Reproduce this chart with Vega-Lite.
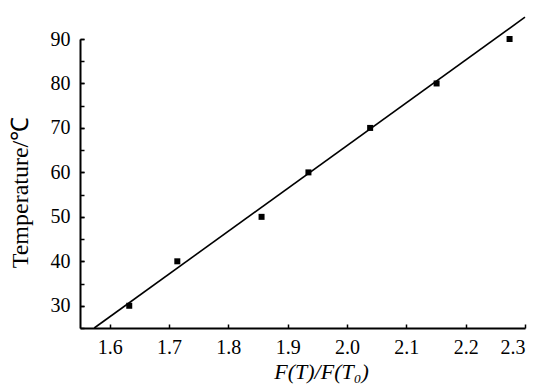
{
  "$schema": "https://vega.github.io/schema/vega-lite/v6.json",
  "autosize": "none",
  "width": 445,
  "height": 289,
  "padding": {"left": 80, "top": 39, "right": 21, "bottom": 58},
  "background": "white",
  "config": {
    "view": {"stroke": null}
  },
  "datasets": {
    "points": [
      {"ratio": 1.633, "temp": 30},
      {"ratio": 1.714, "temp": 40},
      {"ratio": 1.856, "temp": 50},
      {"ratio": 1.935, "temp": 60},
      {"ratio": 2.039, "temp": 70},
      {"ratio": 2.151, "temp": 80},
      {"ratio": 2.274, "temp": 90}
    ],
    "fit": [
      {"ratio": 1.574, "temp": 25},
      {"ratio": 2.3, "temp": 94.9}
    ]
  },
  "resolve": {"scale": {"y": "shared"}, "axis": {"y": "independent"}},
  "layer": [
    {
      "data": {"name": "fit"},
      "mark": {"type": "line", "color": "black", "strokeWidth": 1.6},
      "encoding": {
        "x": {"field": "ratio", "type": "quantitative",
          "scale": {"domain": [1.55, 2.3], "nice": false, "zero": false},
          "axis": {"values": [1.6, 1.7, 1.8, 1.9, 2.0, 2.1, 2.2, 2.3], "format": ".1f",
            "labelFont": "Liberation Serif", "labelFontSize": 20, "labelColor": "black",
            "titleFont": "Liberation Serif", "titleFontSize": 22, "titleFontWeight": "normal", "titleColor": "black",
            "domainColor": "black", "domainWidth": 2, "tickColor": "black", "tickWidth": 1.5, "grid": false,
            "tickSize": -4, "labelPadding": 13, "title": "F(T)/F(T₀)", "titleFontStyle": "italic",
            "titleX": 241, "titlePadding": 4}},
        "y": {"field": "temp", "type": "quantitative",
          "scale": {"domain": [25, 90], "nice": false, "zero": false},
          "axis": {"orient": "left", "values": [30, 40, 50, 60, 70, 80, 90],
            "labelOverlap": false,
            "labelFont": "Liberation Serif", "labelFontSize": 20, "labelColor": "black",
            "titleFont": "Liberation Serif", "titleFontSize": 24, "titleFontWeight": "normal", "titleColor": "black",
            "domainColor": "black", "domainWidth": 2, "tickColor": "black", "tickWidth": 1.5, "grid": false,
            "tickSize": -4, "labelPadding": 14, "title": "Temperature/℃",
            "titleY": 153, "titlePadding": 18}}
      }
    },
    {
      "data": {"name": "points"},
      "mark": {"type": "square", "color": "black", "filled": true, "opacity": 1, "size": 36},
      "encoding": {
        "x": {"field": "ratio", "type": "quantitative"},
        "y": {"field": "temp", "type": "quantitative",
          "axis": {"orient": "left", "values": [25, 30, 35, 40, 45, 50, 55, 60, 65, 70, 75, 80, 85, 90],
            "labels": false, "domain": false, "title": null, "grid": false,
            "tickColor": "black", "tickWidth": 1.5, "tickSize": -4}}
      }
    }
  ]
}
